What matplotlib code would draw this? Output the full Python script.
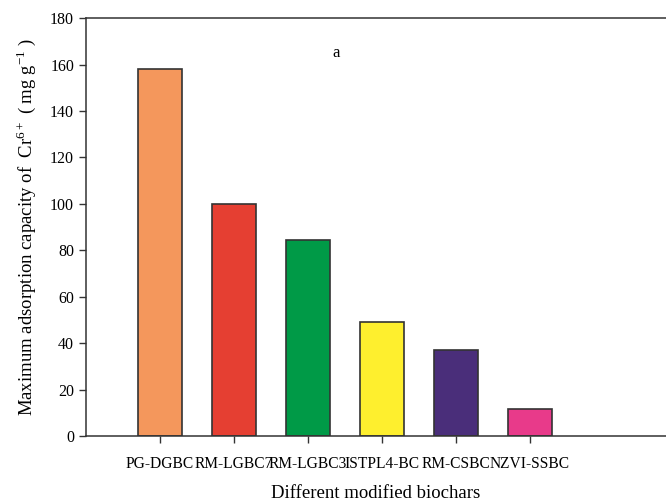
import matplotlib
matplotlib.use('Agg')
import matplotlib.pyplot as plt
import numpy as np

plt.rcParams['font.family'] = 'Liberation Serif'
plt.rcParams['mathtext.fontset'] = 'custom'
plt.rcParams['mathtext.rm'] = 'Liberation Serif'

# data
biochars = ['PG-DGBC', 'RM-LGBC7', 'RM-LGBC3', 'ISTPL4-BC', 'RM-CSBC', 'NZVI-SSBC']
capacity = [158, 100, 84.5, 49, 37, 11.6]
colours = ['#F4975C', '#E53F32', '#009A47', '#FEEF2E', '#4A2E7A', '#E83A8A']

fig = plt.figure(figsize=(6.66, 5.03), dpi=100)
ax = fig.add_axes([0.129, 0.133, 0.871, 0.831])

x = np.arange(len(biochars))
ax.bar(x, capacity, width=0.6, color=colours, edgecolor='#333333', linewidth=1.2)

ax.set_xlim(-1, 6.84)
ax.set_ylim(0, 180)
ax.set_yticks(np.arange(0, 181, 20))
ax.set_xticks(x)
ax.set_xticklabels(biochars, fontsize=11.2)
ax.tick_params(axis='y', labelsize=11.5, direction='out', length=5, width=1, colors='#333333', labelcolor='black')
ax.tick_params(axis='x', direction='out', length=5, width=1, colors='#333333', labelcolor='black', pad=9)

ax.spines['right'].set_visible(False)
for s in ['left', 'bottom', 'top']:
    ax.spines[s].set_color('#333333')
    ax.spines[s].set_linewidth(1.1)

ax.set_ylabel('Maximum adsorption capacity of  Cr$^{6+}$ ( mg g$^{-1}$ )', fontsize=13.5, labelpad=9)
ax.set_xlabel('Different modified biochars', fontsize=13.5, labelpad=10)
ax.text(2.38, 165, 'a', fontsize=12, ha='center', va='center')

fig.savefig('out.png', dpi=100)
